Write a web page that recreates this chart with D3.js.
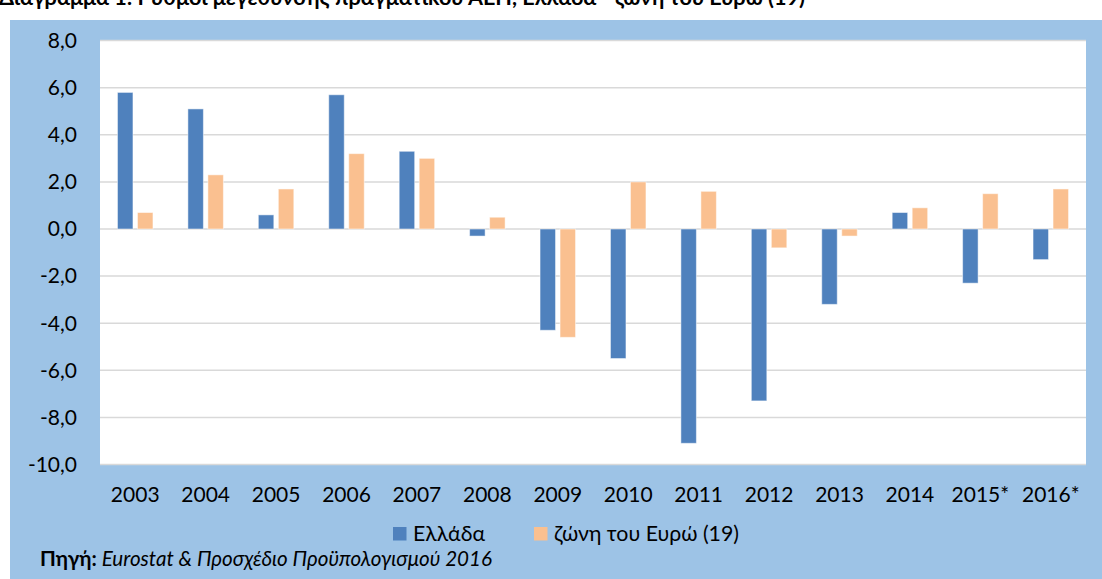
<!DOCTYPE html>
<html><head><meta charset="utf-8">
<script src="https://cdn.jsdelivr.net/npm/d3@7"></script>
<style>body{margin:0;background:#fff;} svg{display:block;font-family:Lato,"Open Sans",sans-serif;}</style>
</head><body>
<svg id="c" width="1102" height="579"></svg>
<script>
const categories = ["2003","2004","2005","2006","2007","2008","2009","2010","2011","2012","2013","2014","2015*","2016*"];
const greece = [5.8,5.1,0.6,5.7,3.3,-0.3,-4.3,-5.5,-9.1,-7.3,-3.2,0.7,-2.3,-1.3];
const euro19 = [0.7,2.3,1.7,3.2,3.0,0.5,-4.6,2.0,1.6,-0.8,-0.3,0.9,1.5,1.7];
const yTicks = [8,6,4,2,0,-2,-4,-6,-8,-10];
const seriesNames = ["Ελλάδα","ζώνη του Ευρώ (19)"];
const seriesColors = ["#4f81bd","#fac090"];

const svg = d3.select("#c");
// background
svg.append("rect").attr("x",10).attr("y",20).attr("width",1092).attr("height",559).attr("fill","#9dc3e6");
// title (clipped at top, as in the reference)
svg.append("text").attr("x",-1).attr("y",5).attr("font-size",21.6).attr("font-weight","bold").attr("fill","#000")
  .text("Διάγραμμα 1: Ρυθμοί μεγέθυνσης πραγματικού ΑΕΠ, Ελλάδα - ζώνη του Ευρώ (19)");

const L=100, R=1086, T=40.6, B=464.5;
svg.append("rect").attr("x",L).attr("y",T).attr("width",R-L).attr("height",B-T).attr("fill","#fff");

const y = d3.scaleLinear().domain([-10,8]).range([B,T]);
const x = d3.scaleBand().domain(categories).range([L,R]);

// gridlines
svg.append("g").selectAll("line").data(yTicks).join("line")
  .attr("x1",L).attr("x2",R).attr("y1",d=>y(d)).attr("y2",d=>y(d))
  .attr("stroke","#d9d9d9").attr("stroke-width",1.5);

// y axis labels
const fmt = d=>d3.format(".1f")(d).replace(".",",").replace("−","-");
svg.append("g").selectAll("text").data(yTicks).join("text")
  .attr("x",77).attr("y",d=>y(d)).attr("dy","0.35em").attr("text-anchor","end")
  .attr("font-size",21).attr("fill","#000").text(fmt);

// bars
const bw = 15.5, gap = 4.5;
const series = [greece, euro19];
series.forEach((vals,si)=>{
  svg.append("g").selectAll("rect").data(vals).join("rect")
    .attr("x",(d,i)=>x(categories[i])+x.bandwidth()/2 + (si===0 ? -gap/2-bw : gap/2))
    .attr("y",d=>y(Math.max(0,d)))
    .attr("width",bw)
    .attr("height",d=>Math.abs(y(d)-y(0)))
    .attr("fill",seriesColors[si])
    .attr("stroke","rgba(255,255,255,0.5)").attr("stroke-width",1);
});

// x labels
svg.append("g").selectAll("text").data(categories).join("text")
  .attr("x",d=>x(d)+x.bandwidth()/2).attr("y",495).attr("dy","0.35em").attr("text-anchor","middle")
  .attr("font-size",21).attr("fill","#000").text(d=>d);

// legend
const legX = [393,534];
seriesNames.forEach((n,i)=>{
  svg.append("rect").attr("x",legX[i]).attr("y",527).attr("width",13.5).attr("height",13.5).attr("fill",seriesColors[i]);
  svg.append("text").attr("x",legX[i]+20).attr("y",533.5).attr("dy","0.35em").attr("font-size",21.3).attr("fill","#000").text(n);
});

// source
const s = svg.append("text").attr("x",40).attr("y",566).attr("font-size",20.6).attr("fill","#000");
s.append("tspan").attr("font-weight","bold").text("Πηγή: ");
s.append("tspan").attr("font-style","italic").text("Eurostat & Προσχέδιο Προϋπολογισμού 2016");
</script>
</body></html>
